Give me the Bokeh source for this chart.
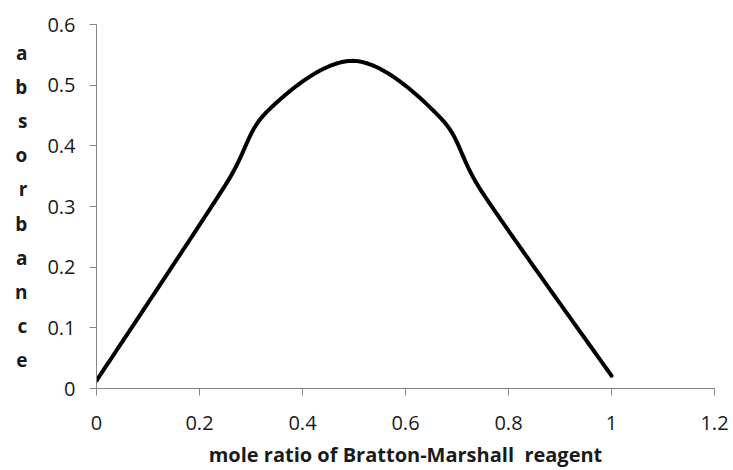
import numpy as np
from bokeh.plotting import figure
from bokeh.models import Range1d, FixedTicker
from bokeh.embed import file_html
from bokeh.resources import INLINE

# ---- data ----
mole_ratio = [0.0, 0.25, 0.333, 0.5, 0.667, 0.75, 1.0]
absorbance = [0.013, 0.335, 0.458, 0.54, 0.447, 0.322, 0.021]

x_ticks = [0, 0.2, 0.4, 0.6, 0.8, 1.0, 1.2]
x_tick_labels = ["0", "0.2", "0.4", "0.6", "0.8", "1", "1.2"]
y_ticks = [0, 0.1, 0.2, 0.3, 0.4, 0.5, 0.6]
y_tick_labels = ["0", "0.1", "0.2", "0.3", "0.4", "0.5", "0.6"]

x_title = "mole ratio of Bratton-Marshall  reagent"
y_title = "absorbance"

# ---- layout constants ----
W, H = 733, 470
LEFT, RIGHT, TOP, BOTTOM = 96, 19, 24, 82
X0, X1, Y0, Y1 = 0.0, 1.2, 0.0, 0.6
FW, FH = W - LEFT - RIGHT, H - TOP - BOTTOM
KX, KY = FW / (X1 - X0), FH / (Y1 - Y0)   # pixels per data unit


def smooth(xs, ys, n=60):
    """Excel-style smoothed line: Bezier segments, control arms 1/6 of the
    neighbour chord, capped at half the segment length (in pixel space)."""
    P = np.column_stack([np.asarray(xs) * KX, np.asarray(ys) * KY]).astype(float)
    E = np.vstack([P[0], P, P[-1]])
    t = np.linspace(0, 1, n)[:, None]
    parts = []
    for i in range(len(P) - 1):
        p0, p1, p2, p3 = E[i], E[i + 1], E[i + 2], E[i + 3]
        d12 = np.linalg.norm(p2 - p1)
        d02 = np.linalg.norm(p2 - p0)
        d13 = np.linalg.norm(p3 - p1)
        f1 = 1 / 6 if d02 / 6 < d12 / 2 else 0.5 * d12 / d02
        f2 = 1 / 6 if d13 / 6 < d12 / 2 else 0.5 * d12 / d13
        c1 = p1 + (p2 - p0) * f1
        c2 = p2 - (p3 - p1) * f2
        seg = (1 - t) ** 3 * p1 + 3 * (1 - t) ** 2 * t * c1 + 3 * (1 - t) * t ** 2 * c2 + t ** 3 * p2
        parts.append(seg if i == 0 else seg[1:])
    S = np.vstack(parts)
    return S[:, 0] / KX, S[:, 1] / KY


sx, sy = smooth(mole_ratio, absorbance)

FONT = "Open Sans"
AXIS_COLOR = "#868686"
TEXT_COLOR = "#1a1a1a"

p = figure(width=W, height=H,
           x_range=Range1d(X0, X1), y_range=Range1d(Y0, Y1),
           output_backend="svg", toolbar_location=None,
           min_border_left=LEFT, min_border_right=RIGHT,
           min_border_top=TOP, min_border_bottom=BOTTOM)
p.outline_line_color = None
p.grid.visible = False
p.background_fill_color = "white"
p.border_fill_color = "white"

p.line(sx, sy, line_color="black", line_width=4, line_cap="round", line_join="round")

# x axis
xa = p.xaxis[0]
xa.ticker = FixedTicker(ticks=x_ticks)
xa.major_label_overrides = {t: l for t, l in zip(x_ticks, x_tick_labels)}
xa.minor_tick_line_color = None
xa.major_tick_in = 0
xa.major_tick_out = 7
xa.axis_line_color = AXIS_COLOR
xa.major_tick_line_color = AXIS_COLOR
xa.major_label_text_font = FONT
xa.major_label_text_font_size = "20px"
xa.major_label_text_color = TEXT_COLOR
xa.major_label_text_line_height = 0.8
xa.major_label_standoff = 20
# non-breaking space keeps the double space of the original title
xa.axis_label = x_title.replace("  ", " \u00a0")
xa.axis_label_text_font = FONT
xa.axis_label_text_font_style = "bold"
xa.axis_label_text_font_size = "20px"
xa.axis_label_text_color = TEXT_COLOR
xa.axis_label_text_line_height = 0.8
xa.axis_label_standoff = 8

# y axis
ya = p.yaxis[0]
ya.ticker = FixedTicker(ticks=y_ticks)
ya.major_label_overrides = {t: l for t, l in zip(y_ticks, y_tick_labels)}
ya.minor_tick_line_color = None
ya.major_tick_in = 0
ya.major_tick_out = 7
ya.axis_line_color = AXIS_COLOR
ya.major_tick_line_color = AXIS_COLOR
ya.major_label_text_font = FONT
ya.major_label_text_font_size = "20px"
ya.major_label_text_color = TEXT_COLOR
ya.major_label_standoff = 14
# stacked vertical title: one letter per line, as in the reference
ya.axis_label = "\n".join(y_title)
ya.axis_label_orientation = "horizontal"
ya.axis_label_text_font = FONT
ya.axis_label_text_font_style = "bold"
ya.axis_label_text_font_size = "19px"
ya.axis_label_text_color = TEXT_COLOR
ya.axis_label_text_line_height = 1.31
ya.axis_label_standoff = 17

open("out.html", "w").write(file_html(p, INLINE))
